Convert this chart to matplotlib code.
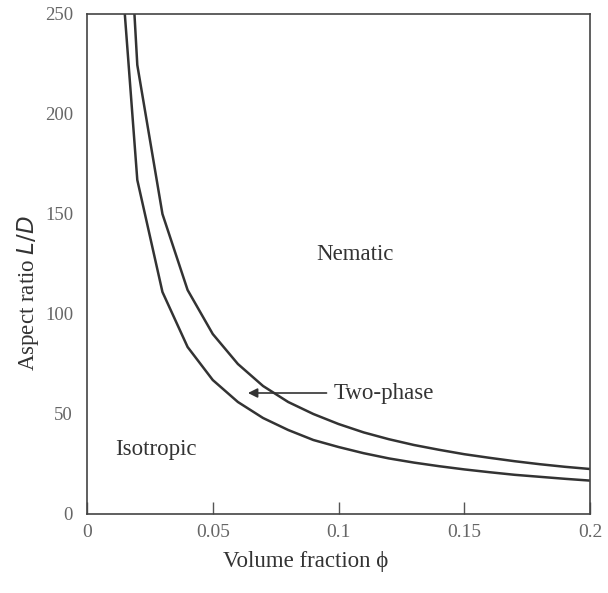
import matplotlib
matplotlib.use("Agg")
import matplotlib.pyplot as plt

# Volume fraction values at which the two phase boundaries were read
phi = [0.01, 0.02, 0.03, 0.04, 0.05, 0.06, 0.07, 0.08, 0.09, 0.10,
       0.11, 0.12, 0.13, 0.14, 0.15, 0.16, 0.17, 0.18, 0.19, 0.20]
# Isotropic boundary (lower curve), aspect ratio L/D
iso = [334, 167, 111, 83.5, 67, 56, 48, 42, 37, 33.5,
       30.4, 27.8, 25.7, 23.9, 22.3, 20.9, 19.6, 18.6, 17.6, 16.7]
# Nematic boundary (upper curve)
nem = [449, 224.5, 150, 112, 90, 75, 64, 56, 50, 45,
       40.8, 37.4, 34.5, 32.1, 29.9, 28.1, 26.4, 24.9, 23.6, 22.5]

xticks = [0, 0.05, 0.1, 0.15, 0.2]
xticklabels = ['0', '0.05', '0.1', '0.15', '0.2']
yticks = [0, 50, 100, 150, 200, 250]

plt.rcParams['font.family'] = ['Liberation Serif', 'DejaVu Serif']

fig = plt.figure(figsize=(6.08, 5.93), dpi=100)
ax = fig.add_axes([87/608, 1 - 514/593, (590-87)/608, (514-14)/593])

ax.plot(phi, iso, color='#333333', lw=1.8)
ax.plot(phi, nem, color='#333333', lw=1.8)

ax.set_xlim(0, 0.2)
ax.set_ylim(0, 250)
ax.set_xticks(xticks)
ax.set_xticklabels(xticklabels)
ax.set_yticks(yticks)
ax.tick_params(axis='x', direction='in', length=9, width=1, color='#555555',
               labelsize=14, labelcolor='#666666', pad=7)
ax.tick_params(axis='y', length=0, labelsize=13.5, labelcolor='#666666', pad=10)
for s in ax.spines.values():
    s.set_color('#444444')
    s.set_linewidth(1.2)

ax.set_xlabel('Volume fraction \u03d5', fontsize=16.5, color='#333333')
ax.set_ylabel('Aspect ratio $\\mathit{L/D}$', fontsize=16.5, color='#333333')
ax.xaxis.set_label_coords(0.435, -0.096)
ax.yaxis.set_label_coords(-0.117, 0.442)
ax.xaxis.label.set_va('center')
ax.yaxis.label.set_va('center')

ax.text(0.1066, 129.5, 'Nematic', fontsize=16.5, color='#333333', ha='center', va='center')
ax.text(0.0275, 32, 'Isotropic', fontsize=16.5, color='#333333', ha='center', va='center')
ax.annotate('Two-phase', xy=(0.064, 60.5), xytext=(0.098, 60.5),
            fontsize=16.5, color='#333333', va='center', ha='left',
            arrowprops=dict(arrowstyle='-|>', color='#333333', lw=1.2,
                            shrinkA=3, shrinkB=0, mutation_scale=14))

fig.savefig('out.png', dpi=100)
